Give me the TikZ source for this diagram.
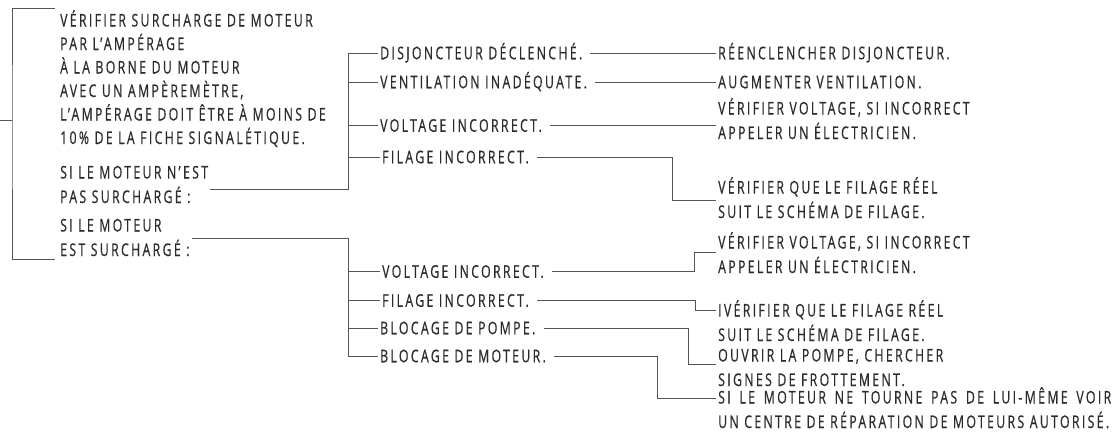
\documentclass[tikz,border=0pt]{standalone}
\usepackage{fontspec}
\setmainfont{Open Sans}[FakeStretch=0.70,LetterSpace=13.5,FakeBold=0.5]
\usetikzlibrary{calc}
\definecolor{ink}{HTML}{2B2B2B}
\definecolor{wirec}{HTML}{555555}
\tikzset{
  txt/.style={text=ink, inner xsep=2pt, inner ysep=1pt, align=left, font=\fontsize{17.5}{24.5}\selectfont},
  one/.style={txt, anchor=west, text height=12.5pt, text depth=0pt},
  two/.style={txt, anchor=base west},
  wire/.style={draw=wirec, line width=0.9pt},
  fromtxt/.style={wire, shorten <=6pt}
}

\begin{document}
\begin{tikzpicture}[x=1pt,y=-1pt]
  \fill[white] (0,0) rectangle (1115,447);
  \useasboundingbox (0,0) rectangle (1115,447);

  % left column (base = last line)
  \node[two, font=\fontsize{17.5}{23.5}\selectfont] (chk) at (58,144) {VÉRIFIER SURCHARGE DE MOTEUR\\PAR L’AMPÉRAGE\\À LA BORNE DU MOTEUR\\AVEC UN AMPÈREMÈTRE,\\L’AMPÉRAGE DOIT ÊTRE À MOINS DE\\10\% DE LA FICHE SIGNALÉTIQUE.};
  \node[two] (nsur) at (58,203) {SI LE MOTEUR N’EST\\PAS SURCHARGÉ :};
  \node[two] (sur) at (58,256) {SI LE MOTEUR\\EST SURCHARGÉ :};

  % causes
  \node[one] (p1) at (378,53) {DISJONCTEUR DÉCLENCHÉ.};
  \node[one] (p2) at (378,82) {VENTILATION INADÉQUATE.};
  \node[one] (p3) at (378,125.5) {VOLTAGE INCORRECT.};
  \node[one] (p4) at (380,157) {FILAGE INCORRECT.};
  \node[one] (q1) at (380,271.5) {VOLTAGE INCORRECT.};
  \node[one] (q2) at (380,300.5) {FILAGE INCORRECT.};
  \node[one] (q3) at (378,328) {BLOCAGE DE POMPE.};
  \node[one] (q4) at (378,356) {BLOCAGE DE MOTEUR.};

  % remedies
  \node[one] (s1) at (716,53) {RÉENCLENCHER DISJONCTEUR.};
  \node[one] (s2) at (716,82) {AUGMENTER VENTILATION.};
  \node[two] (s3) at (716,139) {VÉRIFIER VOLTAGE, SI INCORRECT\\APPELER UN ÉLECTRICIEN.};
  \node[two] (s4) at (716,218) {VÉRIFIER QUE LE FILAGE RÉEL\\SUIT LE SCHÉMA DE FILAGE.};
  \node[two] (t1) at (716,273) {VÉRIFIER VOLTAGE, SI INCORRECT\\APPELER UN ÉLECTRICIEN.};
  \node[two] (t2) at (716,341) {IVÉRIFIER QUE LE FILAGE RÉEL\\SUIT LE SCHÉMA DE FILAGE.};
  \node[two] (t3) at (716,386) {OUVRIR LA POMPE, CHERCHER\\SIGNES DE FROTTEMENT.};
  \node[two] (t4) at (716,428) {\makebox[393pt][s]{SI LE MOTEUR NE TOURNE PAS DE LUI-MÊME VOIR}\\UN CENTRE DE RÉPARATION DE MOTEURS AUTORISÉ.};

  % bracket
  \coordinate (root) at (0,120);
  \coordinate (brtop) at (55,8);
  \coordinate (brbot) at (55,259);
  \draw[wire] (brtop) -| ([xshift=12pt]root) |- (brbot);
  \draw[wire] (root) -- ++(12,0);

  % branch trees
  \coordinate (ju) at ([xshift=-30pt]p1.west);
  \coordinate (jl) at ([xshift=-30pt]q4.west);
  \draw[wire] ([yshift=14pt]nsur.base east) -| (ju) -- (p1.west);
  \foreach \p in {p2,p3,p4}
    \draw[wire] (ju |- \p.west) -- (\p.west);
  \draw[wire] ([yshift=18pt]sur.base east) -| (jl) -- (q4.west);
  \foreach \q in {q1,q2,q3}
    \draw[wire] (jl |- \q.west) -- (\q.west);

  % cause to remedy
  \draw[fromtxt] (p1.east) -- (s1.west);
  \draw[fromtxt] (p2.east) -- (s2.west);
  \draw[fromtxt] (p3.east) -- (p3.east -| s3.west);
  \draw[fromtxt] (p4.east) -| ([xshift=-44pt,yshift=18pt]s4.base west) -- ([yshift=18pt]s4.base west);
  \draw[fromtxt] (q1.east) -| ([xshift=-22pt,yshift=21pt]t1.base west) -- ([yshift=21pt]t1.base west);
  \draw[fromtxt] (q2.east) -| ([xshift=-21pt,yshift=31pt]t2.base west) -- ([yshift=31pt]t2.base west);
  \draw[fromtxt] (q3.east) -| ([xshift=-28pt,yshift=22pt]t3.base west) -- ([yshift=22pt]t3.base west);
  \draw[fromtxt] (q4.east) -| ([xshift=-59pt,yshift=30pt]t4.base west) -- ([yshift=30pt]t4.base west);
\end{tikzpicture}
\end{document}
